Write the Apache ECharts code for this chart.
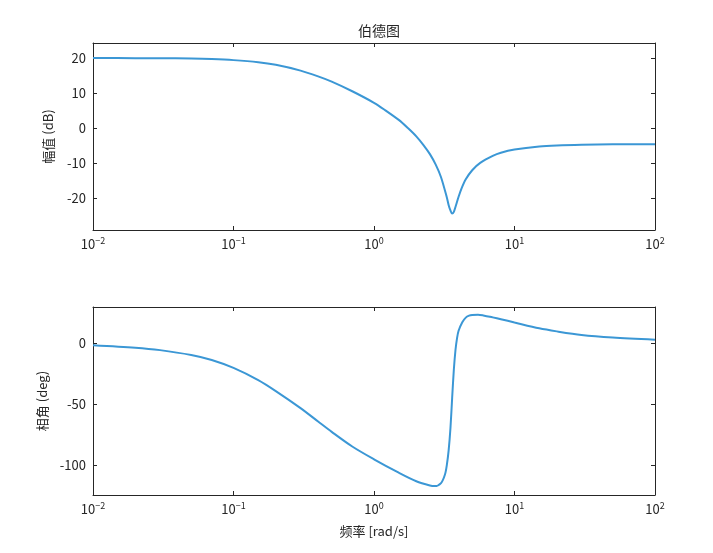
<!DOCTYPE html>
<html>
<head>
<meta charset="utf-8">
<script src="https://cdn.jsdelivr.net/npm/echarts@6/dist/echarts.min.js"></script>
<style>
  html, body { margin: 0; padding: 0; background: #fff; }
  #main { width: 713px; height: 553px; }
</style>
</head>
<body>
<div id="main"></div>
<script>
// magnitude curve
var magFreq = [0.01, 0.02, 0.03, 0.05, 0.07, 0.1, 0.15, 0.2, 0.3, 0.4, 0.5, 0.7, 1, 1.2, 1.5, 1.75, 2, 2.25, 2.5, 2.75, 3, 3.3, 3.4, 3.5, 3.6, 3.7, 3.8, 4, 4.2, 4.5, 5, 5.7, 7, 8, 10, 15, 20, 30, 50, 100];
var magDb = [20.0, 19.97, 19.94, 19.85, 19.7, 19.4, 18.8, 18.05, 16.4, 14.75, 13.25, 10.5, 7.2, 5.1, 2.3, -0.1, -2.4, -4.9, -7.5, -10.5, -14.1, -19.9, -22.1, -23.6, -24.5, -24.0, -22.6, -19.7, -17.3, -14.7, -12.1, -10.0, -8.0, -7.1, -6.2, -5.3, -5.0, -4.8, -4.7, -4.67];

// phase curve
var phaseFreq = [0.01, 0.02, 0.03, 0.05, 0.07, 0.1, 0.15, 0.2, 0.3, 0.4, 0.5, 0.7, 1, 1.5, 2, 2.5, 2.7, 3, 3.2, 3.3, 3.4, 3.5, 3.6, 3.7, 3.8, 3.9, 4, 4.25, 4.5, 4.75, 5, 5.5, 6, 7, 8, 10, 15, 20, 30, 50, 100];
var phaseDeg = [-1.8, -3.9, -5.9, -9.9, -14.0, -20.5, -30.5, -39.5, -53.5, -64.5, -73, -85, -95.5, -106.5, -113.5, -117, -117.5, -115, -108, -100, -88, -70, -45, -22, -6, 4, 10, 17, 20.8, 22.4, 23, 23.2, 22.6, 21, 19.5, 16.8, 12, 9.5, 6.6, 4.5, 2.7];

var xLabels = { '-2': '\u22122', '-1': '\u22121', '0': '0', '1': '1', '2': '2' };

function pairs(xs, ys) {
  var out = [];
  for (var i = 0; i < xs.length; i++) out.push([xs[i], ys[i]]);
  return out;
}

var axisColor = '#262626';
var lineColor = '#3b97d5';
var fontFam = '"Noto Sans CJK SC", "Noto Sans", sans-serif';

function logX(grid, pos, labels, name) {
  return {
    type: 'log', logBase: 10, gridIndex: grid, position: pos,
    min: 0.01, max: 100,
    name: name || '', nameLocation: 'middle', nameGap: 30,
    nameTextStyle: { color: axisColor, fontSize: 13, fontFamily: fontFam },
    axisLine: { show: true, onZero: false, lineStyle: { color: axisColor, width: 1 } },
    axisTick: { show: true, inside: true, length: 4, lineStyle: { color: axisColor } },
    minorTick: { show: false },
    splitLine: { show: false },
    axisLabel: {
      show: labels, margin: 6, color: axisColor, fontSize: 13, fontFamily: fontFam,
      formatter: function (v) {
        var k = String(Math.round(Math.log10(v)));
        return '10{sup|' + (xLabels[k] || k) + '}';
      },
      rich: { sup: { fontSize: 9, verticalAlign: 'top', padding: [0, 0, 8, 0], color: axisColor, fontFamily: fontFam } }
    }
  };
}

function linY(grid, pos, labels, min, max, split, name) {
  return {
    type: 'value', gridIndex: grid, position: pos,
    min: min, max: max, splitNumber: split,
    name: name || '', nameLocation: 'middle', nameGap: 38,
    nameTextStyle: { color: axisColor, fontSize: 13, fontFamily: fontFam },
    axisLine: { show: true, onZero: false, lineStyle: { color: axisColor, width: 1 } },
    axisTick: { show: true, inside: true, length: 4, lineStyle: { color: axisColor } },
    splitLine: { show: false },
    axisLabel: {
      show: labels, margin: 7, color: axisColor, fontSize: 13, fontFamily: fontFam,
      showMinLabel: false, showMaxLabel: false
    }
  };
}

var chart = echarts.init(document.getElementById('main'), null, { renderer: 'canvas' });
var option = {
  backgroundColor: '#ffffff',
  animation: false,
  title: {
    text: '伯德图', left: 374, top: 19, textAlign: 'center',
    textStyle: { color: axisColor, fontSize: 14, fontWeight: 'normal', fontFamily: fontFam }
  },
  grid: [
    { left: 93, right: 58, top: 43, height: 187 },
    { left: 93, right: 58, top: 307, height: 188 }
  ],
  xAxis: [
    logX(0, 'bottom', true),
    logX(1, 'bottom', true, '频率 [rad/s]'),
    logX(0, 'top', false),
    logX(1, 'top', false)
  ],
  yAxis: [
    linY(0, 'left', true, -29.2, 24.3, 5, '幅值 (dB)'),
    linY(1, 'left', true, -124.8, 29.5, 3, '相角 (deg)'),
    linY(0, 'right', false, -29.2, 24.3, 5),
    linY(1, 'right', false, -124.8, 29.5, 3)
  ],
  series: [
    {
      type: 'line', xAxisIndex: 0, yAxisIndex: 0,
      data: pairs(magFreq, magDb),
      showSymbol: false, smooth: 0.3,
      lineStyle: { color: lineColor, width: 2 }
    },
    {
      type: 'line', xAxisIndex: 1, yAxisIndex: 1,
      data: pairs(phaseFreq, phaseDeg),
      showSymbol: false, smooth: 0.3,
      lineStyle: { color: lineColor, width: 2 }
    }
  ]
};
chart.setOption(option);
</script>
</body>
</html>
